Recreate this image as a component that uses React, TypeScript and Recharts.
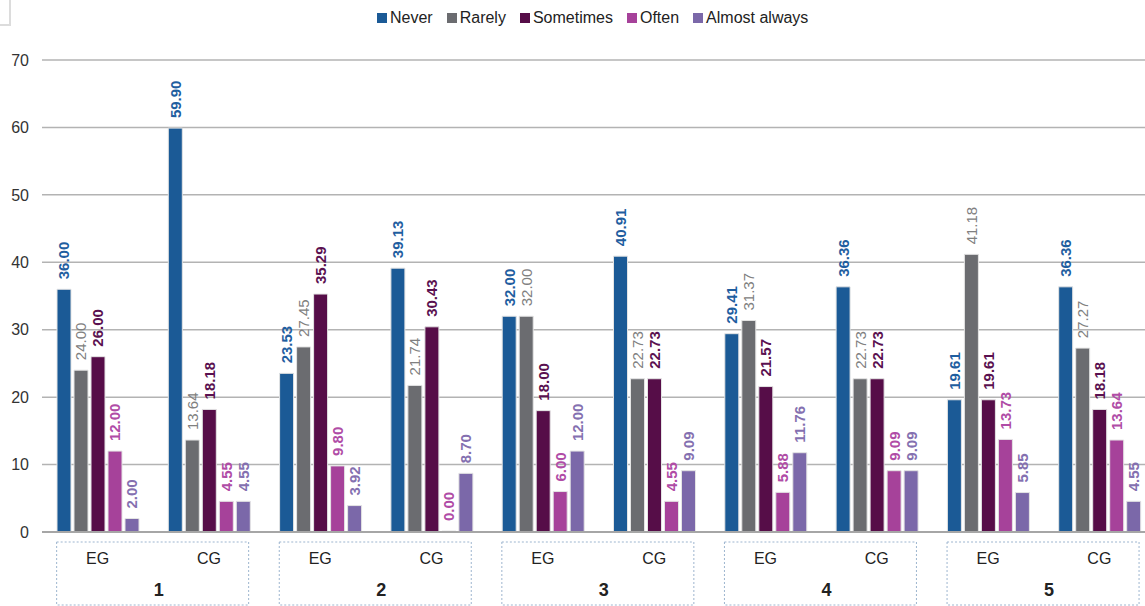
import React from 'react';
import { BarChart, Bar, XAxis, YAxis, CartesianGrid, LabelList } from 'recharts';

const groups = ['1', '2', '3', '4', '5'];
const arms = ['EG', 'CG'];
const seriesNames = ['Never', 'Rarely', 'Sometimes', 'Often', 'Almost always'];
const never = [36.0, 59.9, 23.53, 39.13, 32.0, 40.91, 29.41, 36.36, 19.61, 36.36];
const rarely = [24.0, 13.64, 27.45, 21.74, 32.0, 22.73, 31.37, 22.73, 41.18, 27.27];
const sometimes = [26.0, 18.18, 35.29, 30.43, 18.0, 22.73, 21.57, 22.73, 19.61, 18.18];
const often = [12.0, 4.55, 9.8, 0.0, 6.0, 4.55, 5.88, 9.09, 13.73, 13.64];
const almostAlways = [2.0, 4.55, 3.92, 8.7, 12.0, 9.09, 11.76, 9.09, 5.85, 4.55];
const yTicks = [0, 10, 20, 30, 40, 50, 60, 70];

const barColors = ['#1b5a96', '#6b6c70', '#560d48', '#a6429a', '#7b68a9'];
const labelColors = ['#1f5e9f', '#808080', '#5a1150', '#b04ca6', '#8470b0'];
const keys = ['never', 'rarely', 'sometimes', 'often', 'almostAlways'];
const seriesValues = [never, rarely, sometimes, often, almostAlways];

const FONT = "Arial, 'Liberation Sans', sans-serif";

const data = groups.flatMap((g, gi) =>
  arms.map((a, ai) => {
    const i = gi * 2 + ai;
    const row: any = { key: `${g}|${a}` };
    keys.forEach((k, si) => {
      row[k] = seriesValues[si][i];
    });
    return row;
  })
);

const GroupTick = (props: any) => {
  const { x, y, payload } = props;
  const [group, arm] = String(payload.value).split('|');
  return (
    <g>
      <text x={x} y={y + 26} textAnchor="middle" dominantBaseline="central" fontSize={16} fill="#222" fontFamily={FONT}>
        {arm}
      </text>
      {arm === 'EG' && (
        <g>
          <rect x={x - 41} y={y + 10} width={192} height={63} fill="none" stroke="#9db5cf" strokeDasharray="2 2" strokeWidth={1} />
          <text x={x + 61} y={y + 58} textAnchor="middle" dominantBaseline="central" fontSize={18} fontWeight="bold" fill="#222" fontFamily={FONT}>
            {group}
          </text>
        </g>
      )}
    </g>
  );
};

const makeLabel = (color: string, bold: boolean) => (props: any) => {
  const { x, y, width, height, value } = props;
  const cx = Number(x) + Number(width) / 2;
  // top edge of the bar (height may be negative in some versions)
  const top = Math.min(Number(y), Number(y) + Number(height || 0));
  const ty = top - 10;
  return (
    <text
      x={cx}
      y={ty}
      transform={`rotate(-90 ${cx} ${ty})`}
      textAnchor="start"
      dominantBaseline="central"
      fontSize={15}
      fontWeight={bold ? 'bold' : 'normal'}
      fill={color}
      fontFamily={FONT}
    >
      {Number(value ?? 0).toFixed(2)}
    </text>
  );
};

const App = () => {
  return (
    <div style={{ position: 'absolute', left: 0, top: 0, width: 1145, height: 606, overflow: 'hidden', background: '#fff', fontFamily: FONT }}>
      {/* corner of the outer frame */}
      <div style={{ position: 'absolute', left: 0, top: 0, width: 9, height: 24, borderRight: '2px solid #dcdcdc', borderBottom: '2px solid #dcdcdc' }} />
      <div style={{ position: 'absolute', left: 377, top: 9, display: 'flex', gap: 14, alignItems: 'center', fontSize: 16, lineHeight: '18px', color: '#222' }}>
        {seriesNames.map((n, i) => (
          <div key={n} style={{ display: 'flex', alignItems: 'center' }}>
            <span style={{ display: 'inline-block', width: 10, height: 10, background: barColors[i], marginRight: 3 }} />
            <span>{n}</span>
          </div>
        ))}
      </div>
      <BarChart width={1155} height={606} data={data} margin={{ top: 60, right: 0, bottom: 0, left: 0 }} barGap={3} barSize={14}>
        <CartesianGrid vertical={false} stroke="#b3b3b3" strokeWidth={1.5} />
        <XAxis
          dataKey="key"
          height={74}
          interval={0}
          tickLine={false}
          tickSize={0}
          tickMargin={0}
          axisLine={{ stroke: '#a6a6a6', strokeWidth: 2 }}
          tick={<GroupTick />}
        />
        <YAxis
          width={42}
          domain={[0, 70]}
          ticks={yTicks}
          axisLine={false}
          tickLine={false}
          tickSize={0}
          tickMargin={13}
          tick={{ fontSize: 16, fill: '#333', fontFamily: FONT }}
        />
        {keys.map((k, si) => (
          <Bar
            key={k}
            dataKey={k}
            name={seriesNames[si]}
            fill={barColors[si]}
            stroke="#e4e4e4"
            strokeWidth={1}
            minPointSize={1}
            isAnimationActive={false}
          >
            <LabelList dataKey={k} content={makeLabel(labelColors[si], si !== 1)} />
          </Bar>
        ))}
      </BarChart>
    </div>
  );
};

export default App;
